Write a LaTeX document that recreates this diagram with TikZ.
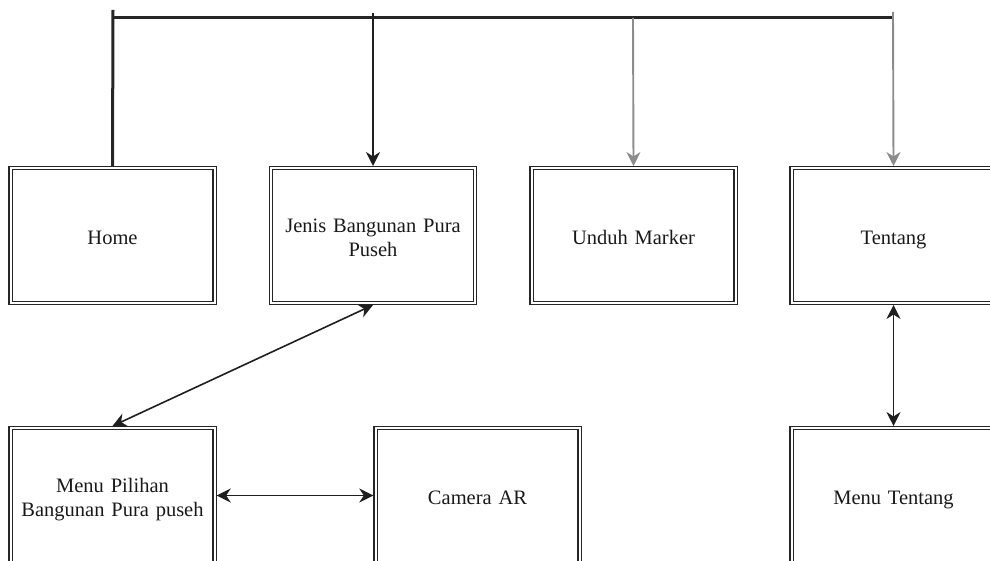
\documentclass[tikz,border=0pt]{standalone}
\usepackage{fontspec}
\setmainfont{Liberation Serif}
\usetikzlibrary{arrows.meta}
\begin{document}
\begin{tikzpicture}[x=1pt,y=-1pt,
  screen/.style={draw=black!85, line width=1.2pt, double=white, double distance=2pt,
    minimum width=204pt, minimum height=134.6pt, inner sep=4pt, outer sep=2.2pt,
    align=center, text width=196pt, font=\fontsize{20.5}{24}\selectfont, text=black!90,
    execute at begin node=\rule{0pt}{24.5pt}, execute at end node=\strut},
  tip/.style={-{Stealth[length=14pt,width=14pt,inset=4.5pt]}},
  both/.style={{Stealth[length=14pt,width=14pt,inset=4.5pt]}-{Stealth[length=14pt,width=14pt,inset=4.5pt]}},
  link/.style={line width=1.6pt, draw=black!88},
  bus/.style={line width=3pt, draw=black!85}
]
\useasboundingbox (0,0) rectangle (990,561);

% top row of screens
\node[screen] (home)   at (112.5,235.5) {Home};
\node[screen] (jenis)  at (373,235.5)   {Jenis Bangunan Pura\\Puseh};
\node[screen] (unduh)  at (633.5,235.5) {Unduh Marker};
\node[screen] (tentang) at (893.5,235.5) {Tentang};

% second row of screens
\node[screen] (pilihan) at (112.5,495.5) {Menu Pilihan\\Bangunan Pura puseh};
\node[screen] (camera)  at (477.5,495.5) {Camera AR};
\node[screen] (mtentang) at (893.5,495.5) {Menu Tentang};

% main navigation bar
\coordinate (busL) at (113,18);
\coordinate (busR) at (893,18);
\coordinate (homeTop) at (113,10);
\coordinate (jenisTop) at (373,13);
\coordinate (unduhTop) at (633,18);
\coordinate (tentangTop) at (893,12);

\draw[bus] (busL) -- (busR);
\draw[bus] (homeTop) -- (home.north);
\draw[link, tip] (jenisTop) -- (jenis.north);
\draw[link, tip, draw=black!45, line width=1.9pt] (unduhTop) -- (unduh.north);
\draw[link, tip, draw=black!45, line width=1.9pt] (tentangTop) -- (tentang.north);

% links between screens
\draw[link, both] (jenis.south) -- (pilihan.north);
\draw[link, both] (pilihan.east) -- (camera.west);
\draw[link, both] (tentang.south) -- (mtentang.north);
\end{tikzpicture}
\end{document}
